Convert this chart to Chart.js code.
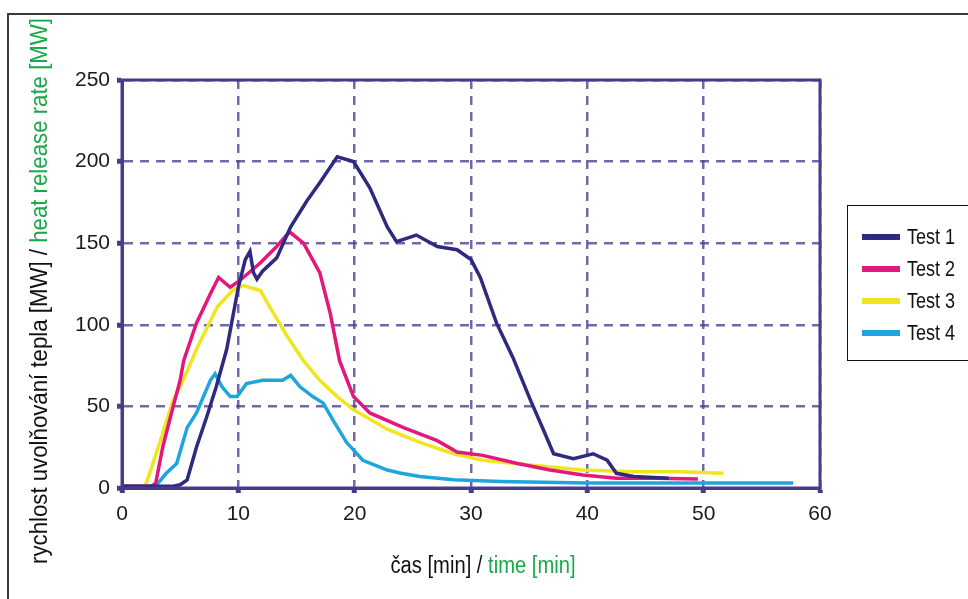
<!DOCTYPE html>
<html>
<head>
<meta charset="utf-8">
<script src="https://cdn.jsdelivr.net/npm/chart.js@4/dist/chart.umd.min.js"></script>
<style>
  html, body { margin: 0; padding: 0; background: #fff; }
  #wrap { width: 968px; height: 599px; }
</style>
</head>
<body>
<div id="wrap"><canvas id="hrr"></canvas></div>
<script>
//* Datos (tiempo en min, HRR en MW)
const seriesNames = ["Test 1", "Test 2", "Test 3", "Test 4"];
const seriesColors = ["#2e2a80", "#e3177c", "#f0e51f", "#1fa5dd"];

const t1Time = [0, 4.3, 5, 5.6, 6.4, 7.3, 8.1, 9, 10, 10.6, 11, 11.3, 11.6, 12.1, 13.3, 14.5, 15.9, 17, 18.5, 19.9, 21.3, 22.8, 23.6, 25.3, 27.1, 28.8, 30, 30.8, 32.2, 33.6, 35.1, 36.2, 37.1, 38.8, 40.5, 41.7, 42.5, 44, 47];
const t1Val = [1, 1, 2, 5, 25, 44, 62, 85, 123, 140, 145, 132, 128, 133, 141, 160, 176, 187, 203, 200, 184, 160, 151, 155, 148, 146, 140, 129, 101, 80, 54, 36, 21, 18, 21, 17, 9, 7, 6];

const t2Time = [0, 2.5, 2.9, 3.5, 4.4, 5, 5.3, 6.4, 7.6, 8.3, 9.3, 10.1, 11.9, 13.3, 14.4, 15.6, 17, 17.9, 18.7, 19.9, 21.3, 24.2, 27.1, 28.8, 31, 34, 36.8, 39.6, 42.5, 46, 49.5];
const t2Val = [1, 1, 3, 25, 50, 66, 78, 101, 119, 129, 123, 127, 138, 148, 157, 150, 132, 107, 78, 56, 46, 37, 29, 22, 20, 15, 11, 8, 6, 6, 5.5];

const t3Time = [0, 1.9, 2.1, 3.3, 4.4, 5.2, 6.4, 8.2, 9.5, 10.4, 11.9, 12.7, 14.2, 15.6, 17, 18.5, 19.9, 22.8, 25.6, 28.5, 31, 35.3, 39.6, 44, 48, 51.7];
const t3Val = [1, 1, 3, 29, 54, 65, 85, 111, 121, 124, 121, 111, 93, 78, 66, 56, 48, 36, 28, 21, 17, 14, 11, 10, 10, 9];

const t4Time = [0, 2.5, 3, 3.8, 4.7, 5.6, 6.4, 7.6, 8, 8.6, 9.3, 9.9, 10.7, 12.1, 13.8, 14.5, 15.3, 16.4, 17.3, 18.1, 19.3, 20.7, 22.8, 24, 25.6, 28.5, 32.5, 40, 50, 57.7];
const t4Val = [1, 1, 2, 9, 15, 37, 46, 66, 70, 62, 56, 56, 64, 66, 66, 69, 62, 56, 52, 42, 28, 17, 11, 9, 7, 5, 4, 3, 3, 3];

//* Ejes
const xTicks = [0, 10, 20, 30, 40, 50, 60];
const yTicks = [0, 50, 100, 150, 200, 250];

//* Titulos de ejes (parte negra + parte verde)
const yTitle = ["rychlost uvolňování tepla [MW] / ", "heat release rate [MW]"];
const xTitle = ["čas [min] / ", "time [min]"];

const fontFam = "'Liberation Sans', Arial, sans-serif";
const gridColor = "rgba(80,65,150,0.8)";
const axisColor = "#4a3a8e";
const green = "#19a84a";

function toPoints(ts, vs) {
	return ts.map((t, i) => ({ x: t, y: vs[i] }));
}

const allTimes = [t1Time, t2Time, t3Time, t4Time];
const allVals = [t1Val, t2Val, t3Val, t4Val];

const datasets = seriesNames.map((name, i) => ({
	label: name,
	data: toPoints(allTimes[i], allVals[i]),
	borderColor: seriesColors[i],
	borderWidth: 3.5,
	pointRadius: 0,
	tension: 0,
	fill: false,
	order: i + 1,
}));

//* Texto en dos colores, comprimido a un ancho dado (fuente estrecha)
function twoColorText(c, parts, cx, cy, width) {
	const w0 = c.measureText(parts[0]).width;
	const w1 = c.measureText(parts[1]).width;
	const k = width / (w0 + w1);
	c.save();
	c.translate(cx, cy);
	c.scale(k, 1);
	const s0 = -(w0 + w1) / 2;
	c.fillStyle = "#111";
	c.fillText(parts[0], s0, 0);
	c.fillStyle = green;
	c.fillText(parts[1], s0 + w0, 0);
	c.restore();
}

//* Marco gris, caja del grafico, leyenda y titulos
const decorations = {
	id: "decorations",
	beforeDraw(chart) {
		const c = chart.ctx;
		c.save();
		c.strokeStyle = "#3a3a3a";
		c.lineWidth = 2;
		c.beginPath();
		c.moveTo(8, 599);
		c.lineTo(8, 14);
		c.lineTo(968, 14);
		c.stroke();
		c.restore();
	},
	afterDraw(chart) {
		const c = chart.ctx;
		const a = chart.chartArea;
		c.save();
		//* caja del grafico
		c.strokeStyle = axisColor;
		c.lineWidth = 3;
		c.strokeRect(a.left, a.top, a.right - a.left, a.bottom - a.top);

		//* leyenda
		c.strokeStyle = "#111";
		c.lineWidth = 1;
		c.strokeRect(847.5, 205.5, 130, 155);
		c.font = "22px " + fontFam;
		c.textBaseline = "middle";
		c.textAlign = "left";
		chart.data.datasets.forEach((ds, i) => {
			const y = 237 + i * 32;
			c.fillStyle = ds.borderColor;
			c.fillRect(862, y - 3, 38, 6);
			c.save();
			c.translate(907, y + 1);
			c.scale(0.82, 1);
			c.fillStyle = "#111";
			c.fillText(ds.label, 0, 0);
			c.restore();
		});

		//* titulo eje x
		c.font = "23px " + fontFam;
		c.textBaseline = "middle";
		twoColorText(c, xTitle, 483, 567, 185);

		//* titulo eje y
		c.translate(41, 291);
		c.rotate(-Math.PI / 2);
		twoColorText(c, yTitle, 0, 0, 546);
		c.restore();
	},
};

const ctx = document.getElementById("hrr").getContext("2d");
const hrrChart = new Chart(ctx, {
	type: "line",
	data: { datasets: datasets },
	options: {
		responsive: true,
		maintainAspectRatio: false,
		animation: false,
		layout: { padding: { left: 0, top: 80, right: 148, bottom: 0 } },
		plugins: {
			legend: { display: false },
			tooltip: { enabled: false },
		},
		scales: {
			x: {
				type: "linear",
				min: 0,
				max: 60,
				afterBuildTicks: (scale) => {
					scale.ticks = xTicks.map((v) => ({ value: v }));
				},
				afterFit: (scale) => {
					scale.height = 111;
				},
				grid: {
					color: gridColor,
					lineWidth: 2.5,
					drawTicks: true,
					tickLength: 5,
					tickWidth: 5,
					tickColor: axisColor,
					tickBorderDash: [],
				},
				border: { display: true, color: axisColor, width: 3, dash: [9, 7] },
				ticks: {
					color: "#1a1a1a",
					padding: 9,
					maxRotation: 0,
					font: { size: 21, family: fontFam },
				},
			},
			y: {
				min: 0,
				max: 250,
				afterBuildTicks: (scale) => {
					scale.ticks = yTicks.map((v) => ({ value: v }));
				},
				afterFit: (scale) => {
					scale.width = 122;
				},
				grid: {
					color: gridColor,
					lineWidth: 2.5,
					drawTicks: true,
					tickLength: 5,
					tickWidth: 5,
					tickColor: axisColor,
					tickBorderDash: [],
				},
				border: { display: true, color: axisColor, width: 3, dash: [9, 7] },
				ticks: {
					color: "#1a1a1a",
					padding: 7,
					font: { size: 21, family: fontFam },
				},
			},
		},
	},
	plugins: [decorations],
});
</script>
</body>
</html>
